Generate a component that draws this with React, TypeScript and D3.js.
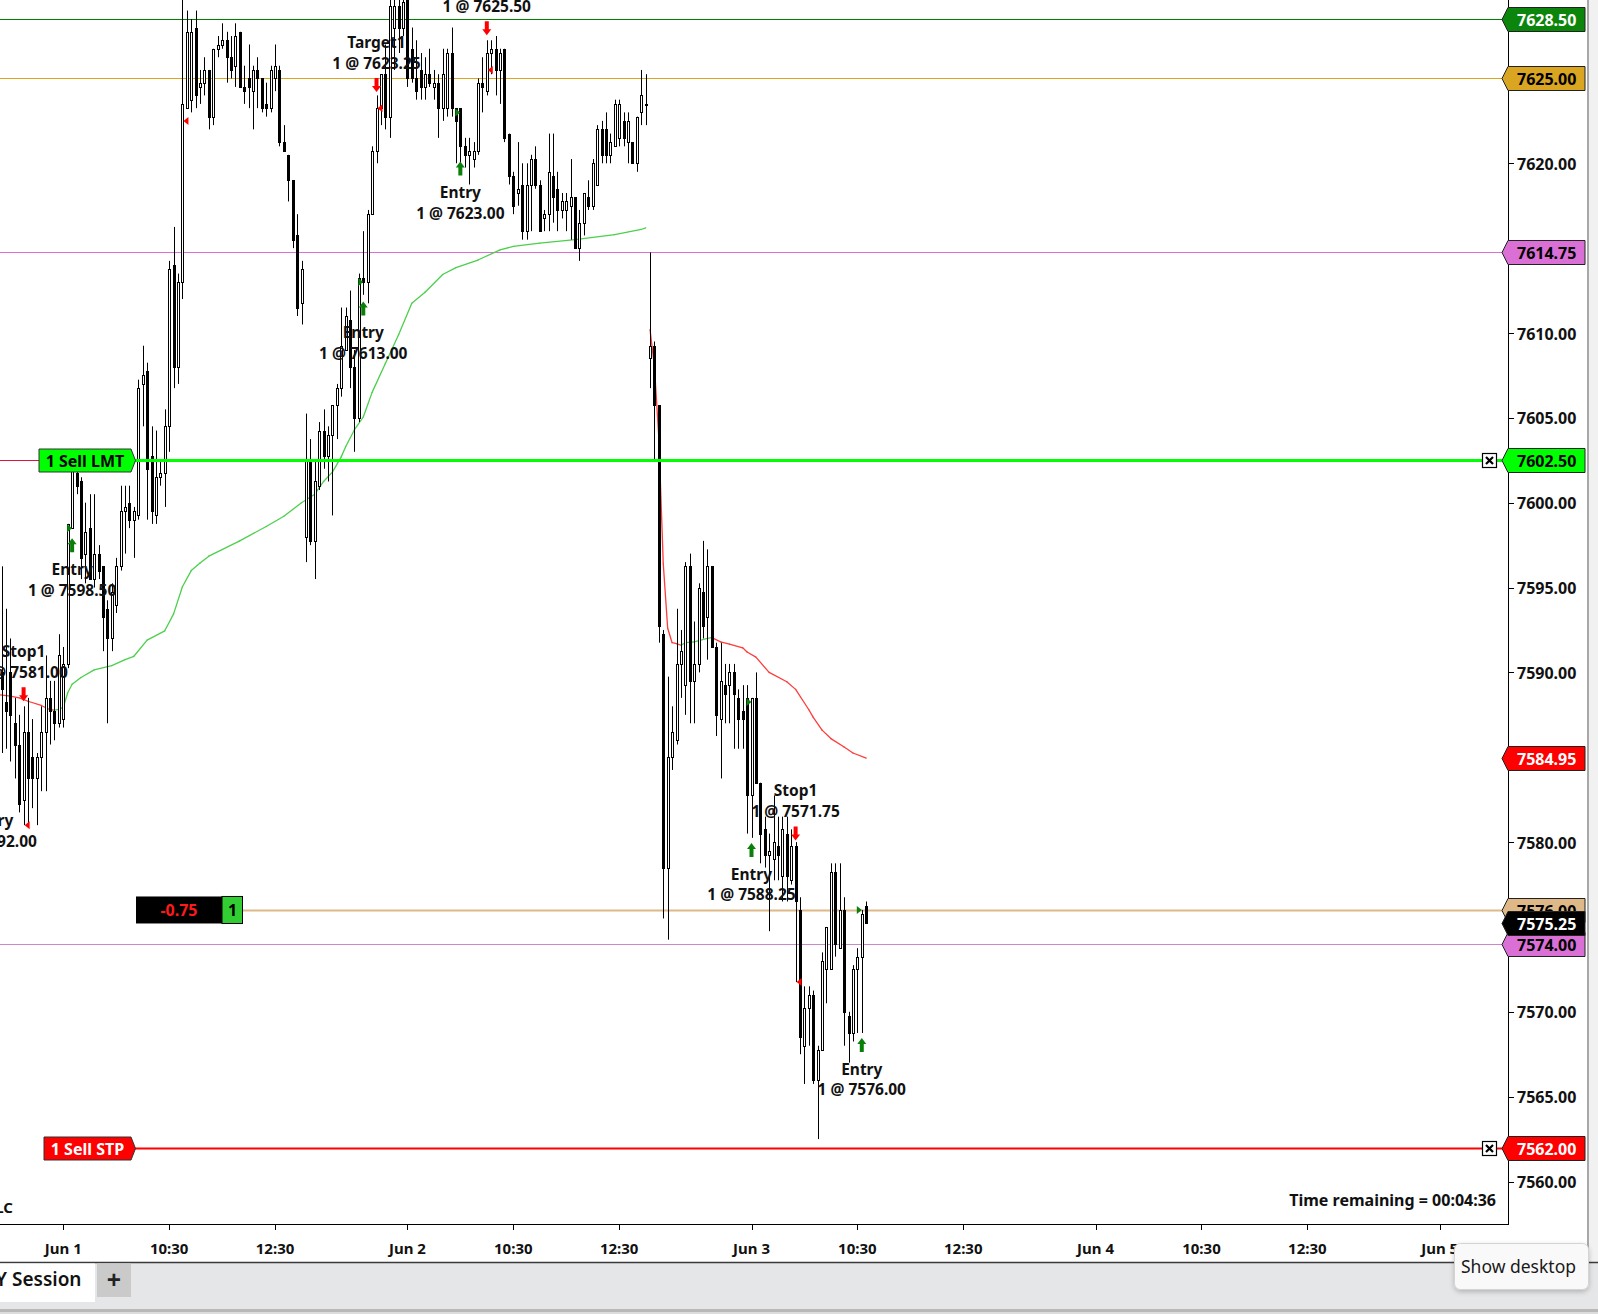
import React from 'react';
import * as d3 from 'd3';

const W = 1598;
const H = 1314;
const FONT = "'Noto Sans', 'DejaVu Sans', sans-serif";

// 5-minute bars; bar 0 = Jun 1 session open, 78 bars per session
const firstBar = -14;
const opens = [
  7590, 7588.25, 7590, 7587, 7585.75, 7582.5, 7586.5, 7585, 7583.75, 7585,
  7586.5, 7588.5, 7587.75, 7587, 7587.25, 7590.5, 7598.5, 7601.75, 7601.25, 7597,
  7598.5, 7595.5, 7597, 7596.25, 7593.75, 7592, 7594, 7596.25, 7599.5, 7600,
  7599, 7599.25, 7607, 7607.75, 7602.75, 7599.25, 7601.5, 7601.75, 7604.5, 7614,
  7608, 7613, 7623.25, 7623.75, 7628, 7624.5, 7624.75, 7625.5, 7622.75, 7626.75,
  7627, 7627.25, 7626.25, 7625.75, 7627.75, 7624.5, 7625, 7624.25, 7625.5, 7625,
  7623.5, 7623.25, 7625, 7625.5, 7621.25, 7620.5, 7619, 7615.75, 7611.75, 7598,
  7602.5, 7597.75, 7601, 7604.25, 7602.75, 7604, 7605.75, 7606.75, 7609, 7610.75,
  7608, 7605, 7613.25, 7613, 7617, 7620.75, 7623.25, 7625.25, 7622.75, 7628,
  7629.25, 7628, 7630, 7626.75, 7625, 7625.5, 7624.5, 7625.25, 7624.5, 7624.75,
  7623.25, 7623.25, 7626.5, 7623.25, 7623.25, 7621, 7620.5, 7620.25, 7620.75, 7624.75,
  7624.25, 7626.5, 7626.75, 7625.5, 7626.75, 7621.75, 7619.25, 7618.25, 7618.75, 7616,
  7618.75, 7620.25, 7618.75, 7616.75, 7617, 7619.25, 7618.5, 7617.25, 7617.25, 7617.5,
  7618, 7615, 7616.5, 7618, 7617.5, 7618.75, 7622, 7622, 7620.5, 7621,
  7621.5, 7622.5, 7621.25, 7621.25, 7620, 7623, 7623.5, 7608.5, 7609.25, 7605.75,
  7592.25, 7578.5, 7585, 7586, 7590.5, 7589.25, 7596.25, 7589.5, 7590.5, 7594.75,
  7593.25, 7596.25, 7591.5, 7587.25, 7589.25, 7589.25, 7590, 7588.5, 7587.75, 7588.5,
  7582.75, 7588.5, 7583.5, 7580.75, 7579.25, 7579, 7579.75, 7578, 7580.5, 7577.75,
  7579.75, 7576, 7568, 7570.25, 7571, 7566, 7567.75, 7572.5, 7572.5, 7578.25,
  7573.75, 7576, 7569.75, 7568.75, 7572.5, 7573.25, 7576.25,
];
const highs = [
  7596.25, 7593.75, 7592, 7588.5, 7587.5, 7588, 7588.5, 7587.25, 7585.25, 7588,
  7591, 7589.5, 7589.5, 7592.25, 7591.5, 7598.75, 7602.25, 7602.5, 7601.5, 7600,
  7600.5, 7600.5, 7597.5, 7596.25, 7594.25, 7595.25, 7596.75, 7601, 7601, 7601,
  7599.75, 7607.25, 7609.25, 7608.25, 7604.5, 7604.25, 7602.5, 7605.5, 7614.25, 7616.25,
  7613.5, 7630.5, 7629, 7628.5, 7629, 7625.5, 7626.25, 7625.5, 7626.75, 7627.5,
  7628.25, 7627.75, 7627.5, 7628.25, 7627.75, 7625.75, 7627, 7625.75, 7626.25, 7625,
  7624.75, 7625.75, 7627, 7625.75, 7622.25, 7620.5, 7619, 7617, 7614.25, 7605.25,
  7603.75, 7602.5, 7604.75, 7605.5, 7604.5, 7605.75, 7607, 7611.5, 7611.5, 7612.5,
  7609, 7613.5, 7616, 7617.25, 7621, 7624, 7625.25, 7627, 7630.5, 7630.5,
  7630.5, 7630.5, 7630.5, 7628, 7627.25, 7626.5, 7626.25, 7626.75, 7625.5, 7625.25,
  7626.75, 7626.75, 7628, 7623.25, 7623.25, 7621.5, 7621.5, 7621.25, 7625, 7626.25,
  7627.25, 7627.25, 7627.5, 7626.75, 7626.75, 7621.75, 7619.5, 7621.25, 7620, 7620,
  7620.5, 7621, 7619, 7617.25, 7621.75, 7621.75, 7619.5, 7618.25, 7618.25, 7620.25,
  7618, 7617.25, 7618.25, 7619, 7620.25, 7622.25, 7622.5, 7623, 7621.75, 7623.75,
  7623.75, 7623, 7623, 7621.25, 7622.75, 7625.5, 7625.25, 7614.75, 7609.5, 7605.75,
  7592.5, 7589.75, 7588, 7593.75, 7592.5, 7596.5, 7597, 7593, 7595.25, 7597.75,
  7597.25, 7596.25, 7591.75, 7591.75, 7590.5, 7590.5, 7590.5, 7589, 7589.25, 7589.25,
  7588.5, 7590, 7583.5, 7581.5, 7580.5, 7582.75, 7581.5, 7581.5, 7581.5, 7580.75,
  7580, 7576.75, 7571.5, 7571.5, 7571.25, 7568, 7573.5, 7575, 7578.75, 7578.75,
  7578.75, 7576.75, 7570, 7572.75, 7573.75, 7576, 7576.5,
];
const lows = [
  7585.25, 7585.5, 7584.75, 7583.75, 7581.75, 7581, 7581, 7582, 7581, 7583,
  7583, 7585.75, 7586, 7586.75, 7586.75, 7590.25, 7598.5, 7600.5, 7595.5, 7595.25,
  7595.5, 7595, 7595.5, 7591.25, 7587, 7591.25, 7593.5, 7596, 7597, 7598.5,
  7596.75, 7599, 7604.5, 7599, 7598.75, 7598.75, 7601, 7599.75, 7603, 7606.75,
  7607, 7612, 7623.25, 7623, 7623.25, 7623.5, 7624, 7622, 7622.25, 7626.25,
  7626.75, 7624.75, 7625, 7624.5, 7624.5, 7623.5, 7623.25, 7622, 7623.25, 7623,
  7622.75, 7623, 7624.25, 7621, 7620.75, 7617.75, 7615, 7611, 7610.5, 7596.5,
  7597.5, 7595.5, 7600.75, 7602, 7601.25, 7599.25, 7603.75, 7606.25, 7609, 7606.75,
  7603, 7604.75, 7612.25, 7611.75, 7617, 7620, 7622.25, 7622, 7621.5, 7625.5,
  7626.5, 7627.5, 7624.5, 7624.75, 7623.75, 7623.75, 7623.75, 7624.5, 7623.75, 7621.5,
  7622.5, 7622.75, 7622.75, 7620, 7620, 7619.75, 7618.75, 7619.75, 7620.5, 7623,
  7624, 7625.25, 7624, 7623.5, 7621.25, 7618.75, 7617, 7617.5, 7615.5, 7615.5,
  7616, 7618.5, 7616, 7616, 7616, 7616.5, 7616, 7616.75, 7616, 7615.5,
  7615, 7614.25, 7615.75, 7617.25, 7617.25, 7618.75, 7620, 7620, 7620, 7621,
  7621, 7621, 7620, 7620, 7619.5, 7622.25, 7622.25, 7606.75, 7602.5, 7591.75,
  7575.5, 7574.25, 7584.25, 7585.75, 7588.5, 7587.5, 7587, 7587, 7590, 7592,
  7590.75, 7591.5, 7586.25, 7583.75, 7587, 7587, 7585.5, 7585.5, 7585.5, 7580.5,
  7580.25, 7583.5, 7578.75, 7578.5, 7574.75, 7577.75, 7577.75, 7576.5, 7576.5, 7577.5,
  7571.75, 7567.5, 7565.75, 7568, 7565.75, 7562.5, 7567.75, 7570.5, 7572.5, 7573.25,
  7573.75, 7568, 7567, 7568.25, 7568.75, 7568.75, 7575.25,
];
const closes = [
  7589, 7587.75, 7587.5, 7585.75, 7582.25, 7586.5, 7583.75, 7583.75, 7585, 7586.5,
  7588.5, 7587.75, 7587, 7591, 7590.5, 7598.75, 7602, 7601, 7596.75, 7598.25,
  7595.5, 7597, 7596, 7593.25, 7592, 7594.75, 7596.25, 7599.5, 7599.75, 7599,
  7599.5, 7606.75, 7607.5, 7602, 7599.5, 7601.5, 7601.75, 7604.5, 7613.75, 7608,
  7613, 7623.5, 7627.75, 7627.75, 7624, 7624.75, 7625.5, 7622.75, 7626.75, 7627,
  7627.25, 7626.25, 7625.5, 7627.5, 7624.5, 7624.25, 7624.5, 7625.5, 7625, 7623.25,
  7623.25, 7625.5, 7625.75, 7621.25, 7620.75, 7619, 7615.5, 7611.5, 7613.75, 7602.5,
  7597.75, 7601.25, 7604.25, 7602.75, 7604, 7605.75, 7606.75, 7609.25, 7611, 7608,
  7605, 7613.25, 7613, 7617, 7620.75, 7623.25, 7625.25, 7622.75, 7629.25, 7629.25,
  7628, 7629.5, 7625, 7625, 7624.25, 7624.5, 7625.25, 7624.75, 7624.75, 7623.25,
  7625.25, 7626.5, 7623.25, 7622.5, 7621, 7620.5, 7620.75, 7620.75, 7624.75, 7624.5,
  7626.5, 7626.75, 7625.5, 7626.5, 7621.5, 7619.25, 7617.5, 7618.5, 7616, 7618.75,
  7620.25, 7618.75, 7616, 7617, 7619.5, 7618, 7617.25, 7617.75, 7617.75, 7618,
  7615, 7616.5, 7618.25, 7617.5, 7620, 7622, 7620.5, 7620.5, 7621.25, 7623.5,
  7623.5, 7621.5, 7622.5, 7620, 7622.75, 7624, 7623.5, 7609.25, 7605.75, 7592.75,
  7578.5, 7585, 7586.5, 7590.5, 7591.25, 7596.25, 7589.5, 7590.5, 7595, 7592.75,
  7596.25, 7591.5, 7587.5, 7589.5, 7588.75, 7590, 7588.75, 7587.25, 7587.25, 7582.75,
  7588.5, 7583.5, 7580.5, 7579.25, 7579.5, 7580, 7579.25, 7580.75, 7578, 7579.75,
  7576.5, 7568.5, 7570.25, 7571, 7566, 7567.75, 7573, 7575, 7578.25, 7574,
  7576, 7570, 7568.75, 7572.5, 7573.25, 7575.75, 7575.25,
];

// moving average, two sessions
const maBars1 = [-15, -12, -10, -8, -5, -3, -2, -1, 0, 1, 2, 4, 7, 11, 14, 16, 19, 23, 25, 27, 29, 31, 33, 40, 46, 50, 54, 57, 59, 61, 63, 64, 66, 68, 70, 73, 76, 79, 82, 86, 89, 94, 99, 102, 108, 116, 125, 131, 132];
const maVals1 = [7588.7, 7588.6, 7588.5, 7588.3, 7588.05, 7587.8, 7587.78, 7587.82, 7587.95, 7588.8, 7589.3, 7589.7, 7590.15, 7590.4, 7590.75, 7590.95, 7591.9, 7592.45, 7593.45, 7595.05, 7596.0, 7596.45, 7596.85, 7597.75, 7598.6, 7599.2, 7600.0, 7600.5, 7601.25, 7601.8, 7602.7, 7603.3, 7604.3, 7605.05, 7606.5, 7608.2, 7609.9, 7611.75, 7612.4, 7613.45, 7613.85, 7614.3, 7614.9, 7615.1, 7615.3, 7615.5, 7615.8, 7616.1, 7616.2];
const maBars2 = [133, 134, 135, 136, 137, 138, 139, 140, 141, 143, 146, 147, 149, 151, 154, 155, 157, 160, 164, 166, 169, 170, 172, 174, 177, 179, 182];
const maVals2 = [7610.2, 7608.0, 7603.8, 7596.4, 7592.6, 7591.75, 7591.7, 7591.6, 7591.75, 7591.8, 7592.0, 7592.05, 7591.8, 7591.67, 7591.45, 7591.2, 7590.9, 7590.0, 7589.45, 7589.0, 7587.8, 7587.35, 7586.6, 7586.1, 7585.6, 7585.25, 7584.95];

// horizontal price levels
const levelPrices = [7628.5, 7625, 7614.75, 7574, 7576];
const levelColors = ['#008000', '#DAA520', '#DA70D6', '#C78BC9', '#DEB887'];
const levelWidths = [1, 1, 1, 1, 2];
const levelStarts = [0, 0, 0, 0, 243];

// price tags on the axis (drawn in this order)
const tagPrices = [7628.5, 7625, 7614.75, 7602.5, 7584.95, 7576, 7574, 7575.25, 7562];
const tagFills = ['#0B850B', '#DAA520', '#DA70D6', '#00FF00', '#FF0000', '#DEB887', '#DA70D6', '#000000', '#FF0000'];
const tagTextColors = ['#fff', '#000', '#000', '#000', '#fff', '#000', '#000', '#fff', '#fff'];

// working orders
const orderPrices = [7602.5, 7562];
const orderLabels = ['1 Sell LMT', '1 Sell STP'];
const orderColors = ['#00FF00', '#FF0000'];
const orderTextColors = ['#000', '#fff'];
const orderWidths = [3, 2];
const orderLabelLeft = [39, 44];

// executions
const execBars = [-16, -9, 2, 27, 68, 71, 90, 96, 156, 166, 181];
const execBuy = [true, false, true, false, true, false, true, false, true, false, true];
const execPrices = [7592, 7581, 7598.5, 7622.5, 7613, 7623.25, 7623, 7625.5, 7588.25, 7571.75, 7576];
const execNames = ['Entry', 'Stop1', 'Entry', 'Target1', 'Entry', 'Target1', 'Entry', 'Target1', 'Entry', 'Stop1', 'Entry'];
const arrowPrices = [7583.1, 7588.3, 7597.9, 7632.5, 7611.85, 7624.2, 7620.1, 7627.55, 7579.95, 7580.1, 7568.45];

const priceTicks = d3.range(7560, 7631, 5);
const timeTickBars = [0, 24, 48, 78, 102, 126, 156, 180, 204, 234, 258, 282, 312];
const timeTickLabels = ['Jun 1', '10:30', '12:30', 'Jun 2', '10:30', '12:30', 'Jun 3', '10:30', '12:30', 'Jun 4', '10:30', '12:30', 'Jun 5'];

const positionPrice = 7576;
const positionPnl = '-0.75';
const positionQty = '1';

const plotRight = 1508;
const plotBottom = 1224;

export default function App() {
  const x = d3.scaleLinear().domain([0, 312]).range([63.3, 1439.7]);
  const y = d3.scaleLinear().domain([7560, 7620]).range([1181.5, 163.3]);

  const segs = (bars: number[], vals: number[]) =>
    bars.slice(1).map((b, i) => ({
      x1: x(bars[i]), y1: y(vals[i]), x2: x(b), y2: y(vals[i + 1]),
      up: vals[i + 1] >= vals[i],
    }));
  const maSegs = [...segs(maBars1, maVals1), ...segs(maBars2, maVals2)];

  // tick labels that a price tag covers are not drawn
  const shownTicks = priceTicks.filter(
    (p) => !tagPrices.some((t) => Math.abs(y(t) - y(p)) < 14),
  );

  const tagPath = (yc: number) =>
    `M1502,${yc} L1508,${yc - 12} L1585,${yc - 12} L1585,${yc + 12} L1508,${yc + 12} Z`;

  const upArrow = (cx: number, ty: number) =>
    `M${cx},${ty} L${cx + 4.5},${ty + 6} L${cx + 2},${ty + 6} L${cx + 2},${ty + 14} L${cx - 2},${ty + 14} L${cx - 2},${ty + 6} L${cx - 4.5},${ty + 6} Z`;
  const downArrow = (cx: number, by: number) =>
    `M${cx},${by} L${cx + 4.5},${by - 6} L${cx + 2},${by - 6} L${cx + 2},${by - 14} L${cx - 2},${by - 14} L${cx - 2},${by - 6} L${cx - 4.5},${by - 6} Z`;

  const posY = y(positionPrice);

  return (
    <div style={{ position: 'absolute', left: 0, top: 0 }}>
      <svg width={W} height={H} style={{ display: 'block' }} fontFamily={FONT}>
        <defs>
          <clipPath id="plot">
            <rect x={0} y={0} width={plotRight} height={plotBottom} />
          </clipPath>
          <filter id="shadow" x="-20%" y="-30%" width="140%" height="160%">
            <feDropShadow dx="0" dy="2" stdDeviation="2.5" floodOpacity="0.22" />
          </filter>
        </defs>
        <rect x={0} y={0} width={W} height={H} fill="#fff" />
        <rect x={1589} y={0} width={9} height={1262} fill="#F1F1F1" />

        <g clipPath="url(#plot)">
          {/* price levels */}
          {levelPrices.map((p, i) => (
            <line key={i} x1={levelStarts[i]} x2={1502} y1={Math.round(y(p)) + 0.5} y2={Math.round(y(p)) + 0.5}
              stroke={levelColors[i]} strokeWidth={levelWidths[i]} />
          ))}
          <line x1={0} x2={39} y1={Math.round(y(7602.5)) + 0.5} y2={Math.round(y(7602.5)) + 0.5} stroke="#DC143C" strokeWidth={1} />

          {/* moving average */}
          {maSegs.map((s, i) => (
            <line key={i} x1={s.x1} y1={s.y1} x2={s.x2} y2={s.y2}
              stroke={s.up ? '#4CCF4C' : '#FF3B3B'} strokeWidth={1.3} strokeLinecap="round" />
          ))}

          {/* candles */}
          {opens.map((o, i) => {
            const n = firstBar + i;
            const cx = Math.round(x(n)) + 0.5;
            const c = closes[i];
            const up = c >= o;
            const top = Math.round(y(Math.max(o, c)));
            const bot = Math.round(y(Math.min(o, c)));
            const h = Math.max(1, bot - top);
            return (
              <g key={i}>
                <line x1={cx} x2={cx} y1={y(highs[i])} y2={y(lows[i])} stroke="#000" strokeWidth={1} />
                <rect x={cx - 1} y={top + 0.5} width={2} height={h}
                  fill={up ? '#fff' : '#000'} stroke="#000" strokeWidth={1} shapeRendering="crispEdges" />
              </g>
            );
          })}

          {/* executions */}
          {execBars.map((b, i) => {
            const bx = x(b);
            const py = y(execPrices[i]);
            const buy = execBuy[i];
            const ay = y(arrowPrices[i]);
            const color = buy ? '#0A7F0A' : '#FF0000';
            const tri = buy
              ? `M${bx},${py} L${bx - 5},${py - 4} L${bx - 5},${py + 4} Z`
              : `M${bx + 1},${py} L${bx + 6},${py - 4} L${bx + 6},${py + 4} Z`;
            const l1 = buy ? ay + 14 + 17.3 : ay - 14 - 35.5;
            const l2 = buy ? ay + 14 + 37.7 : ay - 14 - 15;
            return (
              <g key={i}>
                <path d={tri} fill={color} />
                <path d={buy ? upArrow(bx, ay) : downArrow(bx, ay)} fill={color} />
                <text x={bx} y={l1 + 5.5} textAnchor="middle" fontSize={15.5} fontWeight={700} fill="#111">{execNames[i]}</text>
                <text x={bx} y={l2 + 5.5} textAnchor="middle" fontSize={15.5} fontWeight={700} fill="#111">
                  {`1 @ ${execPrices[i].toFixed(2)}`}
                </text>
              </g>
            );
          })}

          {/* working orders */}
          {orderPrices.map((p, i) => {
            const yc = Math.round(y(p)) + 0.5;
            const left = orderLabelLeft[i];
            return (
              <g key={i}>
                <line x1={135} x2={1482} y1={yc} y2={yc} stroke={orderColors[i]} strokeWidth={orderWidths[i]} />
                <line x1={1497} x2={1502} y1={yc} y2={yc} stroke={orderColors[i]} strokeWidth={orderWidths[i]} />
                <path d={`M${left},${yc - 11.5} L131,${yc - 11.5} L135.5,${yc} L131,${yc + 11.5} L${left},${yc + 11.5} Z`}
                  fill={orderColors[i]} stroke="#333" strokeWidth={1} />
                <text x={(left + 131) / 2} y={yc + 6} textAnchor="middle" fontSize={16} fontWeight={700}
                  fill={orderTextColors[i]}>{orderLabels[i]}</text>
                <rect x={1482.5} y={yc - 7} width={14} height={14} fill="#fff" stroke="#000" strokeWidth={1.2} />
                <path d={`M1486,${yc - 3.5} L1493,${yc + 3.5} M1493,${yc - 3.5} L1486,${yc + 3.5}`} stroke="#000" strokeWidth={2.2} />
              </g>
            );
          })}

          {/* position box */}
          <rect x={136} y={posY - 13.5} width={86} height={27} fill="#000" />
          <rect x={222} y={posY - 13.5} width={20.5} height={27} fill="#32CD32" stroke="#000" strokeWidth={1} />
          <text x={179} y={posY + 6} textAnchor="middle" fontSize={16} fontWeight={700} fill="#FF1A1A">{positionPnl}</text>
          <text x={232.5} y={posY + 6} textAnchor="middle" fontSize={16} fontWeight={700} fill="#000">{positionQty}</text>

          <text x={13} y={1213} textAnchor="end" fontSize={15} fontWeight={700} fill="#111">© 2025 NinjaTrader, LLC</text>
          <text x={1496} y={1206} textAnchor="end" fontSize={16} fontWeight={700} fill="#111">Time remaining = 00:04:36</text>
        </g>

        {/* price axis */}
        <line x1={plotRight + 0.5} x2={plotRight + 0.5} y1={0} y2={plotBottom} stroke="#000" strokeWidth={1} />
        {priceTicks.map((p) => (
          <line key={p} x1={plotRight} x2={1514} y1={Math.round(y(p)) + 0.5} y2={Math.round(y(p)) + 0.5} stroke="#000" />
        ))}
        {shownTicks.map((p) => (
          <text key={p} x={1517} y={y(p) + 6.5} fontSize={16} fontWeight={700} fill="#111">{p.toFixed(2)}</text>
        ))}
        {tagPrices.map((p, i) => {
          const yc = Math.round(y(p)) + 0.5;
          return (
            <g key={i}>
              <path d={tagPath(yc)} fill={tagFills[i]} stroke="#222" strokeWidth={1} />
              <text x={1517} y={yc + 6.5} fontSize={16} fontWeight={700} fill={tagTextColors[i]}>{p.toFixed(2)}</text>
            </g>
          );
        })}

        {/* time axis */}
        <line x1={0} x2={plotRight + 1} y1={plotBottom + 0.5} y2={plotBottom + 0.5} stroke="#000" strokeWidth={1.2} />
        {timeTickBars.map((b, i) => (
          <g key={i}>
            <line x1={Math.round(x(b)) + 0.5} x2={Math.round(x(b)) + 0.5} y1={plotBottom} y2={plotBottom + 6} stroke="#000" />
            <text x={x(b)} y={1254} textAnchor="middle" fontSize={15} fontWeight={700} fill="#111">{timeTickLabels[i]}</text>
          </g>
        ))}

        {/* right window edge */}
        <line x1={1588} x2={1588} y1={0} y2={1262} stroke="#A8A8A8" strokeWidth={2} />

        {/* tab bar */}
        <rect x={0} y={1262} width={W} height={47} fill="#E5E6E8" />
        <line x1={0} x2={W} y1={1262.5} y2={1262.5} stroke="#3A3A3A" strokeWidth={1.5} />
        <rect x={0} y={1263.5} width={95} height={38.5} fill="#fff" />
        <text x={81.5} y={1286} textAnchor="end" fontSize={19} fontWeight={600} fill="#111">DAY Session</text>
        <rect x={97} y={1263.5} width={34} height={33.5} fill="#CACACA" />
        <text x={114} y={1289} textAnchor="middle" fontSize={25} fontWeight={700} fill="#222">+</text>
        <rect x={0} y={1309} width={W} height={3} fill="#B8B8B8" />
        <rect x={0} y={1312} width={W} height={2} fill="#DCDCDC" />

        {/* tooltip */}
        <rect x={1454.5} y={1243.5} width={134} height={46} rx={6} fill="#F9F9F9" stroke="#D4D4D4" filter="url(#shadow)" />
        <text x={1461} y={1273} fontSize={17.5} fontWeight={400} fill="#1A1A1A">Show desktop</text>
      </svg>
    </div>
  );
}
